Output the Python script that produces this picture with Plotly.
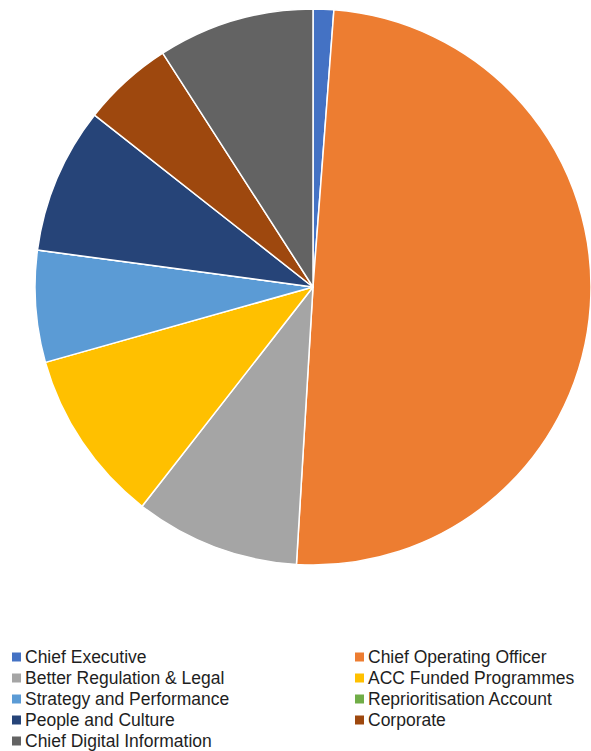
import plotly.graph_objects as go

labels = ["Chief Executive", "Chief Operating Officer", "Better Regulation & Legal",
          "ACC Funded Programmes", "Strategy and Performance", "Reprioritisation Account",
          "People and Culture", "Corporate", "Chief Digital Information"]
values = [1.2, 49.8, 9.6, 10.1, 6.5, 0.0, 8.5, 5.3, 9.1]
colors = ["#4472C4", "#ED7D31", "#A5A5A5", "#FFC000", "#5B9BD5", "#70AD47",
          "#264478", "#9E480E", "#636363"]

W, H = 591, 751

fig = go.Figure(go.Pie(
    labels=labels, values=values, sort=False, direction="clockwise", rotation=0,
    marker=dict(colors=colors, line=dict(color="white", width=1.5)),
    textinfo="none", hoverinfo="label+value", showlegend=False,
    domain=dict(x=[35 / W, 1.0], y=[1 - 568 / H, 1 - 6 / H]),
))

# custom two-column legend (row-wise order, like the original)
shapes, annotations = [], []
col_marker_x = [12, 355]
col_text_x = [23, 366]
row_y0, row_step, sq = 657, 21, 9
for i, (lab, col) in enumerate(zip(labels, colors)):
    r, c = divmod(i, 2)
    yc = row_y0 + r * row_step
    x0 = col_marker_x[c]
    shapes.append(dict(type="rect", xref="paper", yref="paper",
                       x0=x0 / W, x1=(x0 + sq) / W,
                       y0=1 - (yc + sq / 2) / H, y1=1 - (yc - sq / 2) / H,
                       fillcolor=col, line=dict(width=0)))
    annotations.append(dict(text=lab, xref="paper", yref="paper",
                            x=col_text_x[c] / W, y=1 - yc / H,
                            xanchor="left", yanchor="middle", showarrow=False,
                            font=dict(family="Liberation Sans, Arial", size=17.5, color="#1e1e1e")))

fig.update_layout(
    margin=dict(l=0, r=0, t=0, b=0),
    paper_bgcolor="white", plot_bgcolor="white",
    shapes=shapes, annotations=annotations,
    showlegend=False,
)
fig.write_html("out.html")
